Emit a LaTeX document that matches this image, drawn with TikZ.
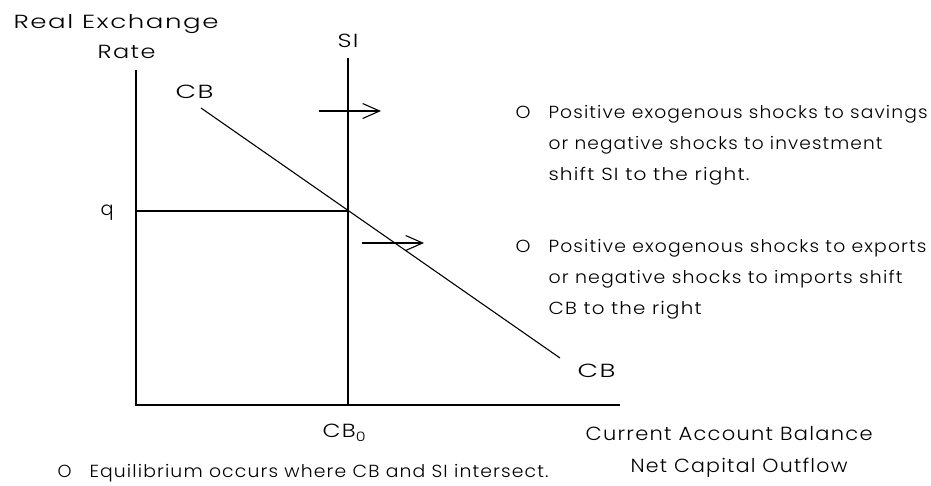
\documentclass[tikz,border=0pt]{standalone}
\usepackage{fontspec}
\setmainfont{Poppins}[UprightFont={* Light},LetterSpace=6]
\usepackage{graphicx}
\usepackage{tikz}
\usetikzlibrary{arrows.meta,positioning}
% stretch a text sideways to a given width in pt
\newcommand{\fitw}[2]{\resizebox{#1pt}{\height}{#2}}

\begin{document}
\begin{tikzpicture}[x=1pt,y=-1pt,>={Straight Barb[length=17pt,width=15pt]},
   line width=1.1pt,
   every node/.style={inner sep=0pt,anchor=base west},
   lbl/.style={font=\fontsize{19}{23}\selectfont},
   note/.style={font=\fontsize{17.5}{31}\selectfont},
   shiftarrow/.style={->}]
  \useasboundingbox (0,0) rectangle (931,485);
  % axes
  \coordinate (origin) at (136,405);
  \coordinate (ytop) at (136,70);
  \coordinate (xend) at (620,405);
  \draw (ytop) -- (origin) -- (xend);
  \node[lbl] (ylab) at (13,28) {\fitw{205}{Real Exchange}};
  \node[lbl] (ylab2) at (97,58) {\fitw{58}{Rate}};
  % SI curve
  \node[lbl] (si) at (337,47) {\fitw{21}{SI}};
  \coordinate (sitop) at (348,58);
  \coordinate (cbzero) at (348,405);
  \draw (sitop) -- (cbzero);
  \node[lbl] (cb0) at (322,437) {\fitw{43}{CB\raisebox{-4pt}{\fontsize{13}{15}\selectfont 0}}};
  % CB curve
  \node[lbl] (cbA) at (175,98) {\fitw{38}{CB}};
  \node[lbl] (cbB) at (577,377) {\fitw{38}{CB}};
  \coordinate (cbstart) at (201,108);
  \coordinate (cbend) at (560,358);
  \draw (cbstart) -- (cbend);
  % equilibrium
  \coordinate (eq) at (348,211);
  \node[lbl] (q) at (100,215) {\fitw{13}{q}};
  \draw (origin |- eq) -- (eq);
  % shifts
  \coordinate (s1) at (319,111);
  \coordinate (s2) at (381,111);
  \coordinate (c1) at (362,243);
  \coordinate (c2) at (424,243);
  \draw[shiftarrow] (s1) -- (s2);
  \draw[shiftarrow] (c1) -- (c2);
  % x axis label
  \node[lbl] (xlab) at (585,440) {\fitw{287}{Current Account Balance}};
  \node[lbl] (xlab2) at (630,472) {\fitw{217}{Net Capital Outflow}};
  % notes
  \node[note] (b1) at (515,118) {\fitw{15}{O}};
  \node[note] (n1a) at (548,118) {\fitw{379}{Positive exogenous shocks to savings}};
  \node[note] (n1b) at (548,149) {\fitw{334}{or negative shocks to investment}};
  \node[note] (n1c) at (548,180) {\fitw{201}{shift SI to the right.}};
  \node[note] (b2) at (515,252) {\fitw{15}{O}};
  \node[note] (n2a) at (548,252) {\fitw{378}{Positive exogenous shocks to exports}};
  \node[note] (n2b) at (548,283) {\fitw{354}{or negative shocks to imports shift}};
  \node[note] (n2c) at (548,314) {\fitw{153}{CB to the right}};
  \node[note] (b3) at (57,477) {\fitw{14}{O}};
  \node[note] (n3) at (89,477) {\fitw{459}{Equilibrium occurs where CB and SI intersect.}};
\end{tikzpicture}
\end{document}
